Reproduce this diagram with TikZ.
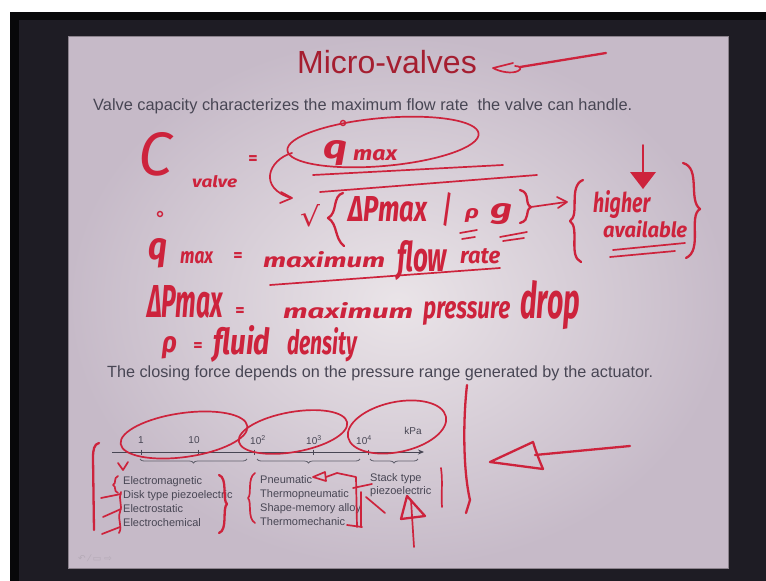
\documentclass[tikz,border=0pt]{standalone}
\usepackage{fontspec}
\setmainfont{Liberation Sans}
\newfontfamily\hand{Fira Sans}
\newfontfamily\symfont{DejaVu Sans}
\usetikzlibrary{decorations.pathreplacing,arrows.meta}
\definecolor{ink}{RGB}{205,35,60}
\definecolor{titlered}{RGB}{165,30,48}
\definecolor{slidetext}{RGB}{72,70,84}
\definecolor{framedark}{RGB}{30,28,36}
\definecolor{frameblack}{RGB}{8,8,10}
\definecolor{slidehi}{RGB}{234,228,232}
\definecolor{slidelo}{RGB}{198,186,200}
\definecolor{iconc}{RGB}{180,170,182}
\newcommand\hw[3]{\resizebox{#1pt}{#2pt}{\hand\bfseries\itshape #3}}
\begin{document}
\begin{tikzpicture}[x=1pt,y=-1pt,
  hnd/.style={inner sep=0pt, text=ink, anchor=base west},
  heq/.style={inner sep=0pt, text=ink, anchor=center, font=\hand\bfseries\fontsize{18}{20}\selectfont},
  stroke/.style={draw=ink, line width=2.3pt, line cap=round, line join=round},
  fine/.style={draw=ink, line width=1.7pt, line cap=round, line join=round},
  stext/.style={inner sep=0pt, text=slidetext, anchor=base west},
  lbl/.style={inner sep=0pt, text=slidetext, anchor=base west, font=\fontsize{11}{12}\selectfont},
  tick/.style={inner sep=0pt, text=slidetext, anchor=center, font=\fontsize{10}{12}\selectfont},
  axisline/.style={draw=slidetext, line width=0.9pt},
  brc/.style={draw=slidetext!85, line width=0.8pt, decorate, decoration={brace, mirror, amplitude=4pt}}
]
\useasboundingbox (0,0) rectangle (766,581);
% background and slide
\fill[white] (0,0) rectangle (766,581);
\fill[framedark] (10,12) rectangle (766,581);
\fill[frameblack] (10,12) rectangle (19,581);
\fill[frameblack] (10,12) rectangle (766,20);
\shade[inner color=slidehi, outer color=slidelo] (68,36) rectangle (728,568);
\draw[slidelo!70!black, line width=0.8pt] (68,36) rectangle (728,568);

% slide texts
\node[inner sep=0pt, anchor=base, text=titlered, font=\fontsize{32}{36}\selectfont] (title) at (387,73) {Micro-valves};
\node[stext] (line1) at (93,110) {\resizebox{539pt}{!}{\fontsize{15}{18}\selectfont Valve capacity characterizes the maximum flow rate~ the valve can handle.}};
\node[stext] (line2) at (107,377) {\resizebox{546pt}{!}{\fontsize{15}{18}\selectfont The closing force depends on the pressure range generated by the actuator.}};

% title arrow
\coordinate (ta1) at (606,53);
\coordinate (ta2) at (520,67);
\draw[stroke] (ta1) -- (ta2);
\draw[fine] (513,63) -- (493,68) .. controls (500,72) and (512,74) .. (518,71) .. controls (522,69) and (521,66) .. (515,66);

% ---- formula: C_valve = qmax / sqrt{dPmax / rho g}
\node[hnd] (C) at (138,175) {\resizebox{34pt}{43pt}{\hand\itshape C}};
\node[hnd] (valve) at (192,187) {\hw{45}{12}{valve}};
\node[heq] (eq1) at (253,160) {=};
\node[hnd] (q1) at (323,158) {\hw{24}{18}{q}};
\node[hnd] (max1) at (353,160) {\hw{44}{11}{max}};
\node[draw=ink, line width=1.4pt, circle, inner sep=0pt, minimum size=5pt] (dot1) at (343,123) {};
\draw[fine] (383,142) [rotate around={5:(383,142)}] ellipse (96 and 24);
\node[inner sep=0pt, text=ink] (sqrt) at (310,216) {\resizebox{20pt}{22pt}{\symfont √}};
\node[hnd] (dP1) at (348,221) {\hw{79}{25}{ΔPmax}};
\node[inner sep=0pt, text=ink] (slash) at (447,210) {\resizebox{10pt}{30pt}{\hand\bfseries /}};
\node[hnd] (rho1) at (465,218) {\hw{14}{10}{ρ}};
\node[hnd] (g1) at (490,218) {\hw{22}{15}{g}};
% fraction lines
\draw[fine] (313,175) -- (503,165);
\draw[fine] (320,192) -- (537,175);
% curved arrow from oval to root
\draw[fine] (292,153) .. controls (268,160) and (258,188) .. (291,198);
\draw[fine] (281,192) -- (292,198) -- (280,203);
% braces of the root
\draw[stroke] (343,193) .. controls (332,196) and (338,213) .. (328,218) .. controls (338,224) and (334,238) .. (344,246);
\draw[stroke] (520,190) .. controls (531,193) and (524,204) .. (531,207) .. controls (524,211) and (531,220) .. (520,223);
% underlines below rho and g
\draw[fine] (460,233) -- (477,230);
\draw[fine] (462,239) -- (475,237);
\draw[fine] (500,237) -- (527,232);
\draw[fine] (503,241) -- (524,238);
% arrow to note
\draw[fine] (531,207) -- (566,202);
\draw[fine] (557,197) -- (567,202) -- (558,208);
% note: higher available
\draw[stroke] (583,180) .. controls (568,186) and (580,215) .. (570,221) .. controls (580,228) and (568,256) .. (581,262);
\node[hnd] (higher) at (593,212) {\hw{57}{22}{higher}};
\node[hnd] (avail) at (603,237) {\hw{84}{17}{available}};
\draw[fine] (613,250) -- (685,243);
\draw[fine] (610,257) -- (675,251);
\draw[stroke] (683,163) .. controls (701,168) and (688,200) .. (700,209) .. controls (688,216) and (703,250) .. (686,258);
\coordinate (dn1) at (643,145);
\coordinate (dn2) at (643,172);
\draw[fine] (dn1) -- (dn2);
\fill[ink] (630,172) -- (656,172) -- (643,189) -- cycle;

% ---- definitions
\node[hnd] (q2) at (148,259) {\hw{19}{21}{q}};
\node[draw=ink, line width=1.4pt, circle, inner sep=0pt, minimum size=5pt] (dot2) at (160,214) {};
\node[hnd] (max2) at (180,263) {\hw{33}{12}{max}};
\node[heq] (eq2) at (238,257) {=};
\node[hnd] (mx1) at (263,267) {\hw{122}{16}{maximum}};
\node[hnd] (flow) at (397,271) {\hw{50}{31}{flow}};
\node[hnd] (rate) at (460,263) {\hw{40}{15}{rate}};
\draw[fine] (270,285) -- (500,268);

\node[hnd] (dP2) at (147,317) {\hw{76}{32}{ΔPmax}};
\node[heq] (eq3) at (240,312) {=};
\node[hnd] (mx2) at (283,318) {\hw{130}{16}{maximum}};
\node[hnd] (press) at (423,318) {\hw{87}{17}{pressure}};
\node[hnd] (drop) at (520,318) {\hw{60}{38}{drop}};

\node[hnd] (rho2) at (162,352) {\hw{15}{16}{ρ}};
\node[heq] (eq4) at (198,347) {=};
\node[hnd] (fluid) at (213,354) {\hw{57}{29}{fluid}};
\node[hnd] (dens) at (287,354) {\hw{70}{27}{density}};

% ---- pressure axis
\coordinate (axL) at (112,452);
\coordinate (axR) at (424,452);
\draw[axisline, -{Stealth[length=6pt,width=5pt]}] (axL) -- (axR);
\foreach \tx in {141,198,254,313,368} \draw[axisline] (\tx,449.5) -- (\tx,454.5);
\node[tick] (t1) at (141,440) {1};
\node[tick] (t10) at (194,440) {10};
\node[tick] (t100) at (258,440) {10\textsuperscript{2}};
\node[tick] (t1000) at (314,440) {10\textsuperscript{3}};
\node[tick] (t10000) at (364,440) {10\textsuperscript{4}};
\node[tick] (kpa) at (413,431) {kPa};
\draw[brc] (140,459) -- (247,459);
\draw[brc] (257,459) -- (360,459);
\draw[brc] (370,459) -- (418,459);

\node[lbl] (l11) at (123,484) {Electromagnetic};
\node[lbl] (l12) at (123,498) {Disk type piezoelectric};
\node[lbl] (l13) at (123,512) {Electrostatic};
\node[lbl] (l14) at (123,526) {Electrochemical};
\node[lbl] (l21) at (260,483) {Pneumatic};
\node[lbl] (l22) at (260,497) {Thermopneumatic};
\node[lbl] (l23) at (260,511) {Shape-memory alloy};
\node[lbl] (l24) at (260,525) {Thermomechanic};
\node[lbl] (l31) at (370,481) {Stack type};
\node[lbl] (l32) at (370,494) {piezoelectric};

% toolbar icons
\node[inner sep=0pt, text=iconc, anchor=west, font=\symfont\fontsize{9}{10}\selectfont] (icons) at (78,558) {↶ ⁄ ▭ ⇨};

% ---- red marks on the actuator diagram
\draw[fine] (184,435) [rotate around={8:(184,435)}] ellipse (64 and 22);
\draw[fine] (293,432) [rotate around={10:(293,432)}] ellipse (55 and 20);
\draw[fine] (397,427) [rotate around={12:(397,427)}] ellipse (50 and 25);
\draw[stroke] (99,443) .. controls (94,444) and (93,450) .. (93,458) -- (94,530);
\draw[fine] (118,463) -- (123,470) -- (128,462);
\draw[fine] (118,476) .. controls (113,478) and (117,483) .. (113,485) .. controls (117,487) and (113,491) .. (118,493);
\draw[fine] (121,492) .. controls (118,500) and (123,506) .. (120,512) .. controls (117,520) and (123,526) .. (119,533);
\draw[fine] (101,498) -- (121,494);
\draw[fine] (103,517) -- (121,509);
\draw[fine] (102,534) -- (120,527);
\draw[stroke] (219,475) .. controls (228,478) and (222,500) .. (227,504) .. controls (222,508) and (228,530) .. (219,533);
\draw[fine] (255,473) .. controls (247,478) and (252,495) .. (248,498) .. controls (252,502) and (247,518) .. (255,523);
\draw[fine] (313,477) -- (325,472) -- (326,481) -- cycle;
\draw[fine] (326,477) -- (337,473) -- (356,477) -- (357,527);
\draw[fine] (347,525) -- (362,527);
\draw[fine] (353,488) -- (372,484);
\draw[fine] (361,492) -- (361,527);
\draw[fine] (366,497) -- (385,513);
\draw[fine] (441,468) .. controls (443,482) and (441,495) .. (442,507);
\draw[stroke] (467,385) .. controls (463,420) and (463,470) .. (470,500) -- (466,513);
% up arrow
\coordinate (up1) at (411,500);
\coordinate (up2) at (414,547);
\draw[fine] (up1) -- (up2);
\draw[stroke] (407,496) -- (425,516) -- (401,519) -- cycle;
% big left arrow
\coordinate (ba1) at (630,446);
\coordinate (ba2) at (535,455);
\draw[stroke] (ba1) -- (ba2);
\draw[stroke] (490,462) -- (533,442) .. controls (536,452) and (540,462) .. (543,469) -- cycle;
\end{tikzpicture}
\end{document}
